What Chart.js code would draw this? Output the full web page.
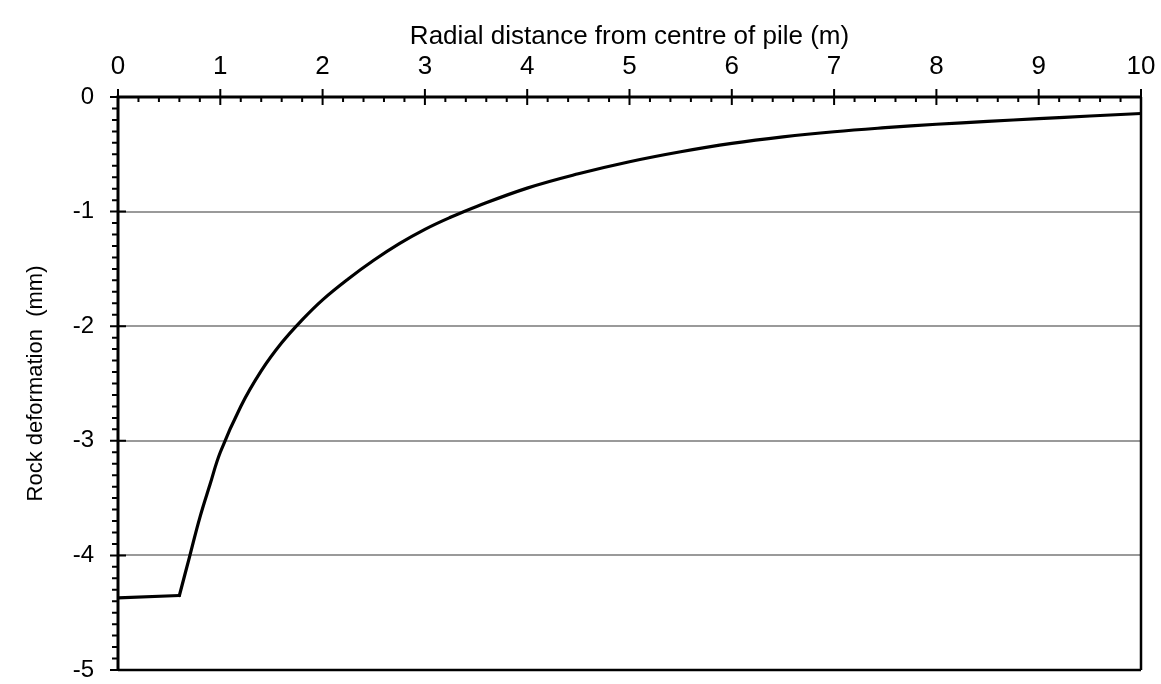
<!DOCTYPE html>
<html>
<head>
<meta charset="utf-8">
<script src="https://cdn.jsdelivr.net/npm/chart.js@4.4.1/dist/chart.umd.min.js"></script>
<style>
html,body{margin:0;padding:0;background:#fff;}
canvas{display:block;}
</style>
</head>
<body>
<canvas id="c" width="1161" height="684"></canvas>
<script>
// Radial distance from centre of pile (m)
const radialDistance = [0, 0.6, 0.7, 0.8, 0.9, 1.0, 1.2, 1.4, 1.6, 1.8, 2.0, 2.25, 2.5, 2.75, 3.0, 3.25, 3.5, 4.0, 4.5, 5.0, 5.5, 6.0, 6.5, 7.0, 7.5, 8.0, 8.5, 9.0, 9.5, 10];
// Rock deformation (mm)
const rockDeformation = [-4.37, -4.35, -4.01, -3.67, -3.38, -3.10, -2.70, -2.39, -2.145, -1.945, -1.77, -1.588, -1.425, -1.28, -1.155, -1.05, -0.957, -0.795, -0.67, -0.565, -0.478, -0.405, -0.348, -0.303, -0.268, -0.238, -0.213, -0.189, -0.166, -0.144];
// index where the pile edge (kink) is
const pileEdgeIndex = 1;
const xTickValues = [0,1,2,3,4,5,6,7,8,9,10];
const yTickValues = [0,-1,-2,-3,-4,-5];
const xTitle = 'Radial distance from centre of pile (m)';
const yTitle = 'Rock deformation  (mm)';

const FONT = "'Liberation Sans', Arial, Helvetica, sans-serif";

const points = radialDistance.map((r, i) => ({x: r, y: rockDeformation[i]}));
const insidePile = points.slice(0, pileEdgeIndex + 1);
const outsidePile = points.slice(pileEdgeIndex);

const axesPlugin = {
  id: 'axesPlugin',
  afterDraw(chart) {
    const {ctx, chartArea: a, scales: {x, y}} = chart;
    ctx.save();
    ctx.strokeStyle = '#000';
    ctx.lineCap = 'butt';
    ctx.lineWidth = 2.5;
    ctx.beginPath();
    ctx.moveTo(a.right, a.top); ctx.lineTo(a.right, a.bottom);
    ctx.moveTo(a.left, a.bottom); ctx.lineTo(a.right, a.bottom);
    ctx.stroke();
    ctx.lineWidth = 3;
    ctx.beginPath();
    ctx.moveTo(a.left - 1.5, a.top); ctx.lineTo(a.right + 1, a.top);
    ctx.moveTo(a.left, a.top); ctx.lineTo(a.left, a.bottom + 1);
    ctx.stroke();
    ctx.lineWidth = 2;
    ctx.beginPath();
    for (let i = 0; i <= 50; i++) {
      const px = x.getPixelForValue(i / 5);
      if (i % 5 === 0) { ctx.moveTo(px, a.top - 8); ctx.lineTo(px, a.top + 8); }
      else { ctx.moveTo(px, a.top); ctx.lineTo(px, a.top + 5); }
    }
    for (let i = 0; i <= 50; i++) {
      const py = y.getPixelForValue(-i / 10);
      if (i % 10 === 0) { ctx.moveTo(a.left - 8, py); ctx.lineTo(a.left + 8, py); }
      else { ctx.moveTo(a.left - 6, py); ctx.lineTo(a.left, py); }
    }
    ctx.stroke();
    ctx.restore();
  }
};

function noPad(s) { s.paddingTop = 0; s.paddingBottom = 0; s.paddingLeft = 0; s.paddingRight = 0; }

const lineStyle = {borderColor: '#000', borderWidth: 3.2, pointRadius: 0, fill: false, borderCapStyle: 'round', borderJoinStyle: 'round'};

new Chart(document.getElementById('c'), {
  type: 'line',
  data: {
    datasets: [
      Object.assign({data: insidePile, tension: 0}, lineStyle),
      Object.assign({data: outsidePile, tension: 0.4}, lineStyle)
    ]
  },
  options: {
    responsive: false,
    devicePixelRatio: 1,
    animation: false,
    layout: {padding: {left: 0, top: 0, right: 20, bottom: 14}},
    plugins: {legend: {display: false}, tooltip: {enabled: false}},
    scales: {
      x: {
        type: 'linear',
        position: 'top',
        min: 0, max: 10,
        afterBuildTicks: s => { s.ticks = xTickValues.map(v => ({value: v})); },
        afterFit: s => { s.height = 97; noPad(s); },
        ticks: {padding: 15, color: '#000', font: {size: 26, family: FONT}, maxRotation: 0},
        grid: {display: false, drawTicks: false},
        border: {display: false},
        title: {display: true, text: xTitle, color: '#000', font: {size: 26, family: FONT}, padding: {top: 21, bottom: 0}}
      },
      y: {
        type: 'linear',
        min: -5, max: 0,
        afterBuildTicks: s => { s.ticks = yTickValues.map(v => ({value: v})); },
        afterFit: s => { s.width = 118; noPad(s); },
        ticks: {padding: 24, color: '#000', font: {size: 24, family: FONT}},
        grid: {
          drawTicks: false,
          lineWidth: 2,
          color: c => (c.tick && (c.tick.value === 0 || c.tick.value === -5)) ? 'rgba(0,0,0,0)' : '#9a9a9a'
        },
        border: {display: false},
        title: {display: true, text: yTitle, color: '#000', font: {size: 22, family: FONT}, padding: {top: 23, bottom: 0}}
      }
    }
  },
  plugins: [axesPlugin]
});
</script>
</body>
</html>
